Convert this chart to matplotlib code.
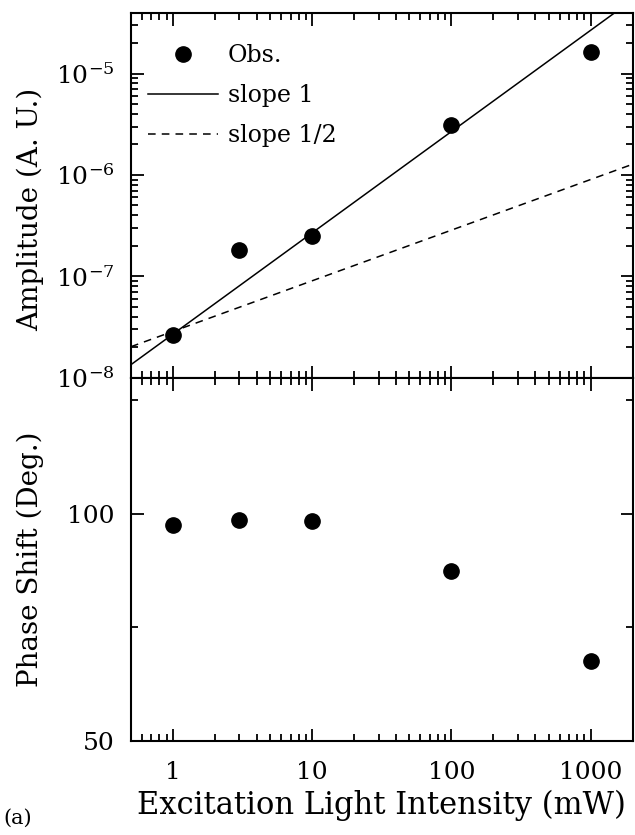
import matplotlib
matplotlib.use("Agg")
import matplotlib.pyplot as plt
import numpy as np
from matplotlib.ticker import LogLocator, FixedLocator, NullFormatter

plt.rcParams['font.family'] = ['DejaVu Serif']
plt.rcParams['mathtext.fontset'] = 'dejavuserif'

intensity = [1, 3, 10, 100, 1000]
amplitude = [2.65e-8, 1.83e-7, 2.48e-7, 3.12e-6, 1.63e-5]
phase = [97.4, 98.5, 98.3, 87.3, 67.5]
slope1_coef = 2.68e-8
slope_half_coef = 2.85e-8
x_line = [0.5, 2000]

fig = plt.figure(figsize=(6.35, 8.35), dpi=100)
L, R = 131/635, 632.5/635
ax1 = fig.add_axes([L, 1-377.5/835, R-L, (377.5-12.7)/835])
ax2 = fig.add_axes([L, 1-740.5/835, R-L, (740.5-377.5)/835], sharex=ax1)

xl = np.array(x_line)
ax1.plot(intensity, amplitude, 'o', color='black', ms=11, label='Obs.')
ax1.plot(xl, slope1_coef*xl, '-', color='black', lw=1.1, label='slope 1')
ax1.plot(xl, slope_half_coef*np.sqrt(xl), '--', color='black', lw=1.1, dashes=(5, 4), label='slope 1/2')
ax1.set_xscale('log')
ax1.set_yscale('log')
ax1.set_xlim(0.5, 2000)
ax1.set_ylim(1e-8, 4e-5)
ax1.set_ylabel('Amplitude (A. U.)', fontsize=20)
ax1.yaxis.set_major_locator(LogLocator(base=10, numticks=10))
ax1.yaxis.set_minor_locator(LogLocator(base=10, subs=np.arange(2, 10), numticks=20))
ax1.yaxis.set_minor_formatter(NullFormatter())
leg = ax1.legend(loc='upper left', frameon=False, fontsize=17, handlelength=3.0,
                 handletextpad=0.4, borderaxespad=0.3, labelspacing=0.72,
                 bbox_to_anchor=(0.0, 0.96))

ax2.plot(intensity, phase, 'o', color='black', ms=11)
ax2.set_ylim(50, 130)
ax2.yaxis.set_major_locator(FixedLocator([50, 100]))
ax2.yaxis.set_minor_locator(FixedLocator([75, 125]))
ax2.set_ylabel('Phase Shift (Deg.)', fontsize=20)
ax2.set_xlabel('Excitation Light Intensity (mW)', fontsize=22)
ax2.xaxis.set_major_locator(FixedLocator([1, 10, 100, 1000]))
ax2.set_xticklabels(['1', '10', '100', '1000'])
ax2.xaxis.set_minor_locator(LogLocator(base=10, subs=np.arange(2, 10), numticks=20))
ax2.xaxis.set_minor_formatter(NullFormatter())

for ax in (ax1, ax2):
    ax.tick_params(which='both', direction='in', top=True, right=True, labelsize=18, width=1.3)
    ax.tick_params(which='major', length=9)
    ax.tick_params(which='minor', length=5)
    ax.tick_params(axis='y', which='major', pad=12)
    ax.tick_params(axis='x', which='major', pad=15)
    for s in ax.spines.values():
        s.set_linewidth(1.5)
plt.setp(ax1.get_xticklabels(), visible=False)
ax1.yaxis.set_label_coords(-0.174, 0.46)
ax2.yaxis.set_label_coords(-0.174, 0.5)
ax2.xaxis.set_label_coords(0.5, -0.135)

fig.text(3/635, 1-828/835, '(a)', fontsize=15, ha='left', va='bottom')

fig.savefig('out.png', dpi=100)
